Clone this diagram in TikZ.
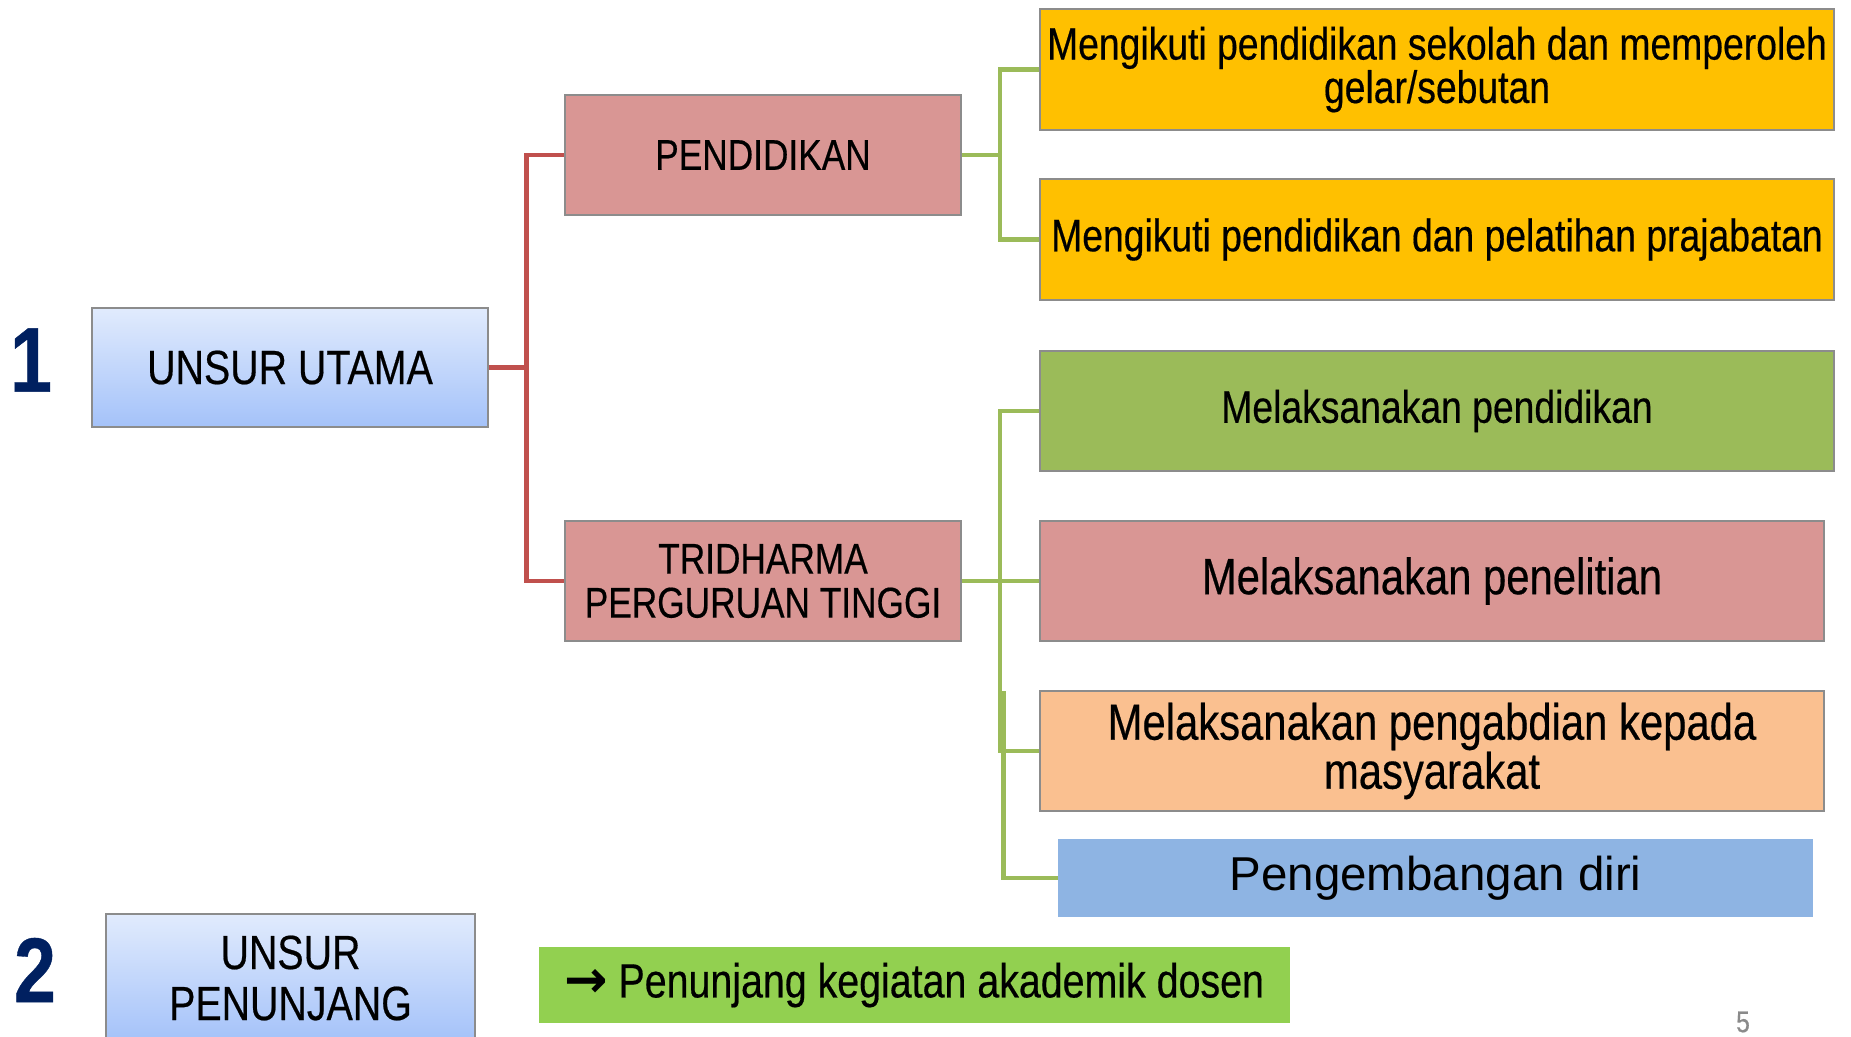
\documentclass[tikz,border=0pt]{standalone}
\usepackage{fontspec}
\setmainfont{Liberation Sans}[FakeStretch=0.82, FakeBold=0.4]
\newfontfamily\widefont{Liberation Sans}
\newfontfamily\arrowfont{DejaVu Sans}
\definecolor{pinkbox}{HTML}{D99694}
\definecolor{yellowbox}{HTML}{FFC000}
\definecolor{greenbox}{HTML}{9BBB59}
\definecolor{peachbox}{HTML}{FAC090}
\definecolor{bluebox}{HTML}{8EB4E3}
\definecolor{limebox}{HTML}{92D050}
\definecolor{redline}{HTML}{C0504D}
\definecolor{greenline}{HTML}{9BBB59}
\definecolor{navy}{HTML}{002060}
\definecolor{gradtop}{HTML}{E1EBFD}
\definecolor{gradbot}{HTML}{A4C2F9}
\definecolor{edge}{HTML}{8C8C8C}
\definecolor{pagenum}{HTML}{8A8A8A}
\tikzset{
  box/.style={draw=edge, line width=1.2pt, inner sep=0pt, align=center, text=black},
  flatbox/.style={inner sep=0pt, align=center, text=black},
  unsur/.style={box, top color=gradtop, bottom color=gradbot, font=\fontsize{48}{51}\selectfont},
  midbox/.style={box, fill=pinkbox, font=\fontsize{43}{44}\selectfont},
  rline/.style={draw=redline, line width=4.5pt},
  gline/.style={draw=greenline, line width=4.5pt},
  num/.style={text=navy, inner sep=0pt, font=\fontsize{92}{92}\selectfont\bfseries}
}
\begin{document}
\begin{tikzpicture}[x=1pt,y=-1pt]
\useasboundingbox (0,0) rectangle (1851,1036);
\clip (0,0) rectangle (1851,1036);

% level 1
\node[num] (n1) at (31,360) {1};
\node[unsur, minimum width=396pt, minimum height=119pt] (uu) at (290,367.5) {UNSUR UTAMA};

% level 2
\node[midbox, minimum width=396pt, minimum height=120pt] (pend) at (763,155) {PENDIDIKAN};
\node[midbox, minimum width=396pt, minimum height=120pt] (tri) at (763,581) {TRIDHARMA\\PERGURUAN TINGGI};

% level 3
\node[box, fill=yellowbox, minimum width=794pt, minimum height=121pt, font=\fontsize{45.5}{42}\selectfont] (y1) at (1437,69.5) {Mengikuti pendidikan sekolah dan memperoleh\\gelar/sebutan};
\node[box, fill=yellowbox, minimum width=794pt, minimum height=121pt, font=\fontsize{45.5}{42}\selectfont] (y2) at (1437,239.5) {Mengikuti pendidikan dan pelatihan prajabatan};
\node[box, fill=greenbox, minimum width=794pt, minimum height=120pt, font=\fontsize{45.5}{44}\selectfont] (g) at (1437,411) {Melaksanakan pendidikan};
\node[box, fill=pinkbox, minimum width=784pt, minimum height=120pt, font=\fontsize{51}{49}\selectfont] (pk) at (1432,581) {Melaksanakan penelitian};
\node[box, fill=peachbox, minimum width=784pt, minimum height=120pt, font=\fontsize{51}{49}\selectfont] (pc) at (1432,751) {Melaksanakan pengabdian kepada\\masyarakat};
\node[flatbox, fill=bluebox, minimum width=755pt, minimum height=78pt, font=\widefont\fontsize{47.5}{48}\selectfont] (bl) at (1435.5,878) {Pengembangan diri};

% level 1 second
\node[num] (n2) at (35,970) {2};
\node[unsur, minimum width=369pt, minimum height=128pt] (up) at (290.5,978) {UNSUR\\PENUNJANG};
\node[flatbox, fill=limebox, minimum width=751pt, minimum height=76pt, font=\fontsize{48}{48}\selectfont] (gb) at (914.5,985) {{\arrowfont\bfseries\fontsize{52}{52}\selectfont →}\hspace{10pt}Penunjang kegiatan akademik dosen};

\node[text=pagenum, inner sep=0pt, font=\fontsize{30}{30}\selectfont] (pg) at (1743,1022) {5};

% connectors
\coordinate (rj) at (526.5,367.5);
\draw[rline] (uu.east) -- (rj);
\draw[rline] (pend.west) -| (rj) |- (tri.west);

\coordinate (gj1) at (1000,155);
\draw[gline] (pend.east) -- (gj1);
\draw[gline] (y1.west) -| (gj1) |- (y2.west);

\coordinate (gj2) at (1000,581);
\draw[gline] (tri.east) -- (pk.west);
\draw[gline] (g.west) -| (gj2) |- (pc.west);
\coordinate (gj3) at (1003.5,691);
\draw[gline] (gj3) |- (bl.west);
\end{tikzpicture}
\end{document}
